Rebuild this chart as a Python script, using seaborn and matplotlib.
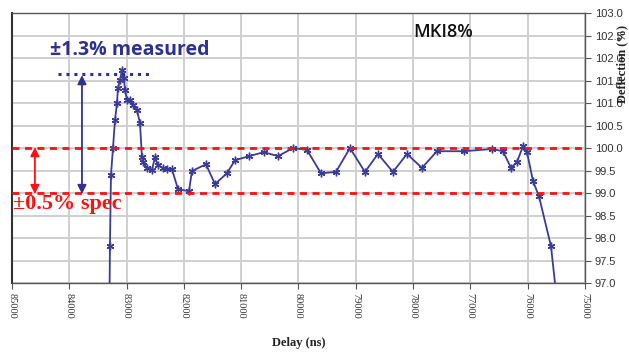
import matplotlib
matplotlib.use("Agg")
import matplotlib.pyplot as plt
import seaborn as sns
import pandas as pd

# Kicker deflection versus delay (MKI8)
delay_ns = [83300, 83290, 83272, 83237, 83202, 83167, 83150, 83115, 83080, 83045,
            83028, 82993, 82941, 82888, 82819, 82766, 82731, 82714, 82644, 82557,
            82504, 82452, 82365, 82295, 82208, 82103, 81911, 81859, 81614, 81457,
            81248, 81108, 80864, 80602, 80358, 80096, 79852, 79607, 79346, 79101,
            78840, 78613, 78351, 78106, 77845, 77583, 77112, 76623, 76431, 76291,
            76187, 76082, 76012, 75907, 75803, 75593, 75489]
deflection_pct = [96.3, 97.82, 99.40, 100.00, 100.62, 101.00, 101.33, 101.51, 101.73, 101.56,
                  101.29, 101.07, 101.07, 100.96, 100.84, 100.56, 99.80, 99.69, 99.56, 99.51,
                  99.80, 99.62, 99.56, 99.53, 99.53, 99.09, 99.04, 99.49, 99.64, 99.20,
                  99.44, 99.73, 99.82, 99.91, 99.82, 100.00, 99.96, 99.44, 99.47, 100.00,
                  99.47, 99.87, 99.47, 99.87, 99.56, 99.93, 99.93, 99.98, 99.93, 99.56,
                  99.69, 100.04, 99.91, 99.27, 98.93, 97.82, 96.6]

spec_limits = [100.0, 99.0]
x_ticks = list(range(85000, 74999, -1000))
y_ticks = [97.0, 97.5, 98.0, 98.5, 99.0, 99.5, 100.0, 100.5, 101.0, 101.5, 102.0, 102.5, 103.0]

title_text = "MKI8%"
measured_text = "\u00b11.3% measured"
spec_text = "\u00b10.5% spec"

df = pd.DataFrame({"delay": delay_ns, "deflection": deflection_pct})

sns.set_style("whitegrid")
plt.rcParams["font.family"] = ["Liberation Sans", "DejaVu Sans"]

fig = plt.figure(figsize=(6.29, 3.53), dpi=100)
ax = fig.add_axes([0.019, 0.198, 0.911, 0.765])

line_color = "#3b3b98"
sns.lineplot(data=df, x="delay", y="deflection", ax=ax, sort=False,
             color=line_color, lw=1.3, marker=(6, 2, 0), markersize=5.5,
             markeredgewidth=1.0, markeredgecolor=line_color)

for lim in spec_limits:
    ax.axhline(lim, color="#ff1010", lw=2.0, ls=(0, (2.5, 2.0)), zorder=3)

ax.set_xlim(85000, 75000)
ax.set_ylim(97.0, 103.0)
ax.set_xticks(x_ticks)
ax.set_yticks(y_ticks)
ax.set_xticklabels([str(t) for t in x_ticks], rotation=270,
                   family="Liberation Serif", fontsize=7.5, color="#333333")
ax.yaxis.tick_right()
ax.set_yticklabels([f"{t:.1f}" for t in y_ticks], fontsize=8, color="#333333")
ax.tick_params(axis="both", which="both", length=4, width=0.8, color="#555555",
               pad=3, bottom=True, right=True, left=False)
ax.grid(True, color="#cfcfcf", lw=1.4)
for side in ["left", "right", "top", "bottom"]:
    ax.spines[side].set_visible(True)
    ax.spines[side].set_color("#555555")
    ax.spines[side].set_linewidth(1.0)
ax.spines["left"].set_color("#333333")
ax.spines["left"].set_linewidth(1.5)

ax.set_xlabel("Delay (ns)", family="Liberation Serif", fontweight="bold",
              fontsize=9, labelpad=13, color="#222222")
ax.set_ylabel("")
fig.text(0.989, 0.82, "Deflection (%)", rotation=90, ha="center", va="center",
         family="Liberation Serif", fontweight="bold", fontsize=9, color="#222222")

ax.text(0.752, 0.93, title_text, transform=ax.transAxes, ha="center", va="center",
        family="Open Sans", fontweight="semibold", fontsize=13, color="#111111")

blue = "#2e3192"
ax.text(82940, 102.18, measured_text, ha="center", va="center",
        family="Open Sans", fontweight="bold", fontsize=14, color=blue)
ax.plot([84197, 82592], [101.64, 101.64], color=blue, lw=2.2, ls=(0, (1, 1.6)))
ax.annotate("", xy=(83778, 101.62), xytext=(83778, 98.98),
            arrowprops=dict(arrowstyle="<|-|>", color=blue, lw=1.3, mutation_scale=13,
                            shrinkA=0, shrinkB=0))

red = "#ff1010"
ax.annotate("", xy=(84600, 100.02), xytext=(84600, 98.98),
            arrowprops=dict(arrowstyle="<|-|>", color=red, lw=1.3, mutation_scale=13,
                            shrinkA=0, shrinkB=0))
ax.text(84980, 98.76, spec_text, ha="left", va="center",
        family="Liberation Serif", fontweight="bold", fontsize=16, color=red)

fig.savefig("out.png", dpi=100, facecolor="white")
